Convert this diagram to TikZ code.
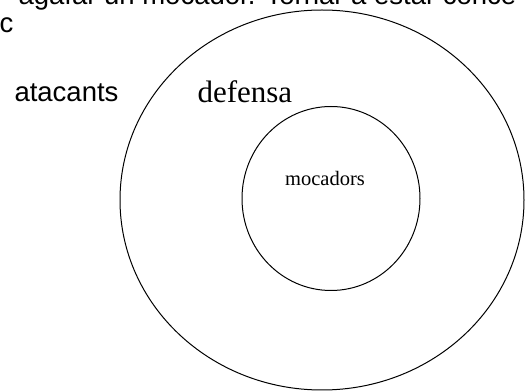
\documentclass[tikz,border=0pt]{standalone}
\usepackage{fontspec}
\setmainfont{Liberation Serif}
\setsansfont{Liberation Sans}

\begin{document}
\begin{tikzpicture}[x=1pt,y=1pt,line width=1pt]

\useasboundingbox (0,0) rectangle (525,391);
\clip (0,0) rectangle (525,391);

\node [anchor=base west, inner sep=0, font=\sffamily\fontsize{27.5}{33}\selectfont] (top) at (18,386) {agafar un mocador. Tornar a estar conce};
\node [anchor=base west, inner sep=0, font=\sffamily\fontsize{27.5}{33}\selectfont] (cline) at (-1,358) {c};

\draw (322,191) ellipse [x radius=202, y radius=190];
\draw (331,192.5) ellipse [x radius=89, y radius=92];

\node [anchor=base west, inner sep=0, font=\sffamily\fontsize{27.5}{33}\selectfont] (atacants) at (14,289) {atacants};
\node [anchor=base west, inner sep=0, font=\fontsize{31}{37}\selectfont] (defensa) at (197,288) {defensa};
\node [anchor=base, inner sep=0, font=\fontsize{20.5}{25}\selectfont] (mocadors) at (325,205) {mocadors};

\end{tikzpicture}
\end{document}
